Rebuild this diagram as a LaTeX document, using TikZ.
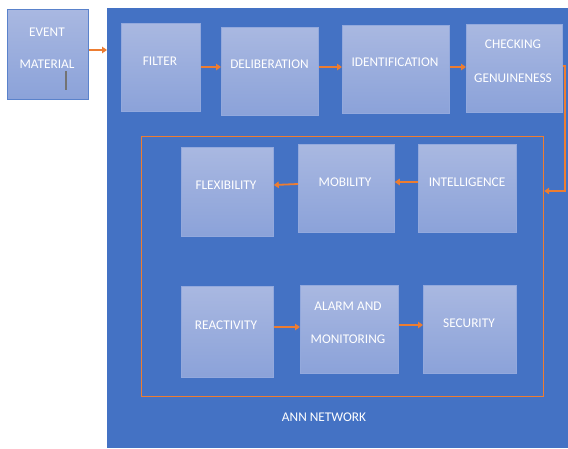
\documentclass[tikz,border=0pt]{standalone}
\usepackage{fontspec}
\setmainfont{Carlito}
\usetikzlibrary{arrows.meta}
\definecolor{netblue}{HTML}{4472C4}
\definecolor{boxtop}{HTML}{A9B8E1}
\definecolor{boxbot}{HTML}{8BA2D9}
\definecolor{boxline}{HTML}{93A9DD}
\definecolor{evline}{HTML}{5A82CB}
\definecolor{orng}{HTML}{ED7D31}
\begin{document}
\begin{tikzpicture}[x=1pt,y=-1pt,
  box/.style={rectangle, anchor=north west, inner sep=0pt, top color=boxtop, bottom color=boxbot, draw=boxline, line width=0.8pt},
  evbox/.style={box, draw=evline, line width=1pt},
  txt/.style={text=white, font=\fontsize{13.3}{15}\selectfont, inner sep=0pt},
  arr/.style={draw=orng, line width=1.8pt, -{Triangle[length=5pt,width=6.5pt]}},
  oline/.style={draw=orng, line width=1.2pt}]
\useasboundingbox (0,0) rectangle (568,448);
\fill[white] (0,0) rectangle (568,448);
% network background
\node[anchor=north west, fill=netblue, inner sep=0pt, minimum width=461pt, minimum height=440pt] (net) at (107,8) {};
\node[anchor=north west, oline, inner sep=0pt, minimum width=402pt, minimum height=260pt] (inner) at (141,136) {};
% event material
\node[evbox, minimum width=81pt, minimum height=90pt] (event) at (7,9) {};
\node[txt] (tev1) at (47,32) {EVENT};
\node[txt] (tev2) at (47,64) {MATERIAL};
\draw[gray!90!black, line width=1.5pt] (66,71) -- (66,90);
% top row
\node[box, minimum width=79pt, minimum height=88pt] (filter) at (121,23) {};
\node[txt] (tfilter) at (160,61) {FILTER};
\node[box, minimum width=97pt, minimum height=88pt] (delib) at (221,27) {};
\node[txt] (tdelib) at (269.5,64) {DELIBERATION};
\node[box, minimum width=107pt, minimum height=88pt] (ident) at (342,25) {};
\node[txt] (tident) at (395,62) {IDENTIFICATION};
\node[box, minimum width=96pt, minimum height=88pt] (check) at (466,24) {};
\node[txt] (tcheck1) at (513,44) {CHECKING};
\node[txt] (tcheck2) at (513,78) {GENUINENESS};
% middle row
\node[box, minimum width=92pt, minimum height=89pt] (flex) at (181,147) {};
\node[txt] (tflex) at (226,185) {FLEXIBILITY};
\node[box, minimum width=96pt, minimum height=88pt] (mob) at (298,144) {};
\node[txt] (tmob) at (345,182) {MOBILITY};
\node[box, minimum width=98pt, minimum height=88pt] (intel) at (418,144) {};
\node[txt] (tintel) at (467,182) {INTELLIGENCE};
% bottom row
\node[box, minimum width=92pt, minimum height=91pt] (react) at (181,286) {};
\node[txt] (treact) at (226,325) {REACTIVITY};
\node[box, minimum width=98pt, minimum height=88pt] (alarm) at (300,285) {};
\node[txt] (talarm1) at (348,306) {ALARM AND};
\node[txt] (talarm2) at (348,339) {MONITORING};
\node[box, minimum width=93pt, minimum height=88pt] (sec) at (423,285) {};
\node[txt] (tsec) at (469,323) {SECURITY};
\node[txt] (tann) at (324,417) {ANN NETWORK};
% connectors
\draw[arr] (event.east |- 0,50) -- (net.west |- 0,50);
\draw[arr] (filter.east |- 0,67) -- (delib.west |- 0,67);
\draw[arr] (delib.east |- 0,67) -- (ident.west |- 0,67);
\draw[arr] (ident.east |- 0,67) -- (check.west |- 0,67);
\coordinate (c1) at (565,66);
\coordinate (c2) at (565,191);
\draw[arr] (check.east |- c1) -- (c1) -- (c2) -- (inner.east |- c2);
\draw[arr] (intel.west |- 0,182) -- (mob.east |- 0,182);
\draw[arr] (mob.west |- 0,184) -- (flex.east |- 0,185);
\draw[arr] (react.east |- 0,327) -- (alarm.west |- 0,327);
\draw[arr] (alarm.east |- 0,325) -- (sec.west |- 0,325);
\end{tikzpicture}
\end{document}
